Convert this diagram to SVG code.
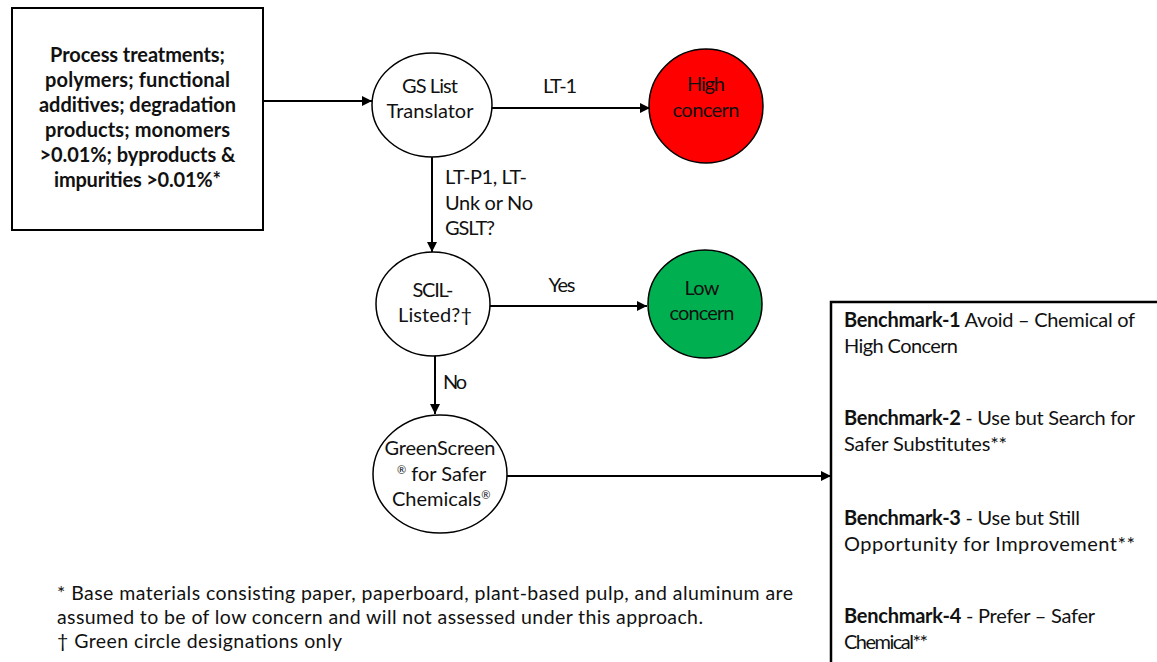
<svg xmlns="http://www.w3.org/2000/svg" width="1157" height="662" viewBox="0 0 1157 662">
<style>
text{font-family:Lato,"Open Sans","Liberation Sans",sans-serif;fill:#111;font-size:20px}
.b{font-weight:bold}
.c{text-anchor:middle}
.n{font-size:20px}
.f{font-size:19.5px}
.sup{font-size:11px}
.node{fill:#fff;stroke:#000;stroke-width:1.5}
.box{fill:#fff;stroke:#000;stroke-width:2}
.con{stroke:#000;stroke-width:2;fill:none;marker-end:url(#ah)}
</style>
<defs>
<marker id="ah" viewBox="0 0 10 10" refX="10" refY="5" markerWidth="5.5" markerHeight="5" orient="auto" markerUnits="strokeWidth">
<path d="M0,0 L10,5 L0,10 z" fill="#000"/>
</marker>
</defs>
<rect width="1157" height="662" fill="#fff"/>
<g id="connectors">
<line class="con" x1="263" y1="101" x2="372" y2="101"/>
<line class="con" x1="492" y1="108" x2="650" y2="108"/>
<line class="con" x1="432" y1="157" x2="432" y2="252"/>
<line class="con" x1="490" y1="306" x2="647" y2="306"/>
<line class="con" x1="435" y1="355" x2="435" y2="414"/>
<line class="con" x1="507" y1="476" x2="831" y2="476"/>
<text x="560" y="93" class="c n" textLength="34">LT-1</text>
<text x="445" y="184" textLength="82">LT-P1, LT-</text>
<text x="445" y="210" textLength="88">Unk or No</text>
<text x="445" y="235" textLength="50">GSLT?</text>
<text x="562" y="292" class="c n" textLength="27">Yes</text>
<text x="443" y="389" textLength="24">No</text>
</g>
<g id="input">
<rect class="box" x="12" y="8" width="251" height="222"/>
<text class="b c" x="137.5" y="62" textLength="175">Process treatments;</text>
<text class="b c" x="137.5" y="87" textLength="185">polymers; functional</text>
<text class="b c" x="137.5" y="112" textLength="197">additives; degradation</text>
<text class="b c" x="137.5" y="137" textLength="185">products; monomers</text>
<text class="b c" x="137.5" y="162" textLength="196">&gt;0.01%; byproducts &amp;</text>
<text class="b c" x="137.5" y="187" textLength="167">impurities &gt;0.01%*</text>
</g>
<g id="gs-list">
<ellipse class="node" cx="432" cy="105" rx="60" ry="52"/>
<text class="c n" x="430" y="93" textLength="56">GS List</text>
<text class="c n" x="430" y="118" textLength="87">Translator</text>
</g>
<g id="high-concern">
<ellipse class="node" cx="706" cy="106" rx="57" ry="57" style="fill:#FF0000"/>
<text class="c n" x="706" y="91" textLength="38">High</text>
<text class="c n" x="706" y="117" textLength="67">concern</text>
</g>
<g id="scil">
<ellipse class="node" cx="433" cy="304" rx="57" ry="52"/>
<text class="c n" x="433" y="297" textLength="41">SCIL-</text>
<text class="c n" x="435" y="322" textLength="74">Listed?†</text>
</g>
<g id="low-concern">
<ellipse class="node" cx="705" cy="304" rx="57" ry="54" style="fill:#00B050"/>
<text class="c n" x="702" y="295" textLength="35">Low</text>
<text class="c n" x="702" y="320" textLength="65">concern</text>
</g>
<g id="greenscreen">
<ellipse class="node" cx="440" cy="474" rx="67" ry="59"/>
<text class="c n" x="440" y="455" textLength="111">GreenScreen</text>
<text class="n" x="397" y="481"><tspan class="sup" dy="-7">®</tspan><tspan dy="7"> for Safer</tspan></text>
<text class="n" x="392" y="506">Chemicals<tspan class="sup" dy="-7">®</tspan></text>
</g>
<g id="benchmarks">
<rect x="831" y="302" width="340" height="380" fill="#fff" stroke="#000" stroke-width="2.5"/>
<text x="844" y="327" textLength="291"><tspan class="b">Benchmark-1</tspan> Avoid – Chemical of</text>
<text x="844" y="353" textLength="114">High Concern</text>
<text x="844" y="425" textLength="291"><tspan class="b">Benchmark-2</tspan> - Use but Search for</text>
<text x="844" y="451" textLength="163">Safer Substitutes**</text>
<text x="844" y="525" textLength="236"><tspan class="b">Benchmark-3</tspan> - Use but Still</text>
<text x="844" y="551" textLength="291">Opportunity for Improvement**</text>
<text x="844" y="623" textLength="251"><tspan class="b">Benchmark-4</tspan> - Prefer – Safer</text>
<text x="844" y="649" textLength="84">Chemical**</text>
</g>
<g id="footnotes">
<text class="f" x="57" y="600" textLength="736">* Base materials consisting paper, paperboard, plant-based pulp, and aluminum are</text>
<text class="f" x="57" y="624" textLength="646">assumed to be of low concern and will not assessed under this approach.</text>
<text class="f" x="57" y="648" textLength="285">† Green circle designations only</text>
</g>
</svg>
